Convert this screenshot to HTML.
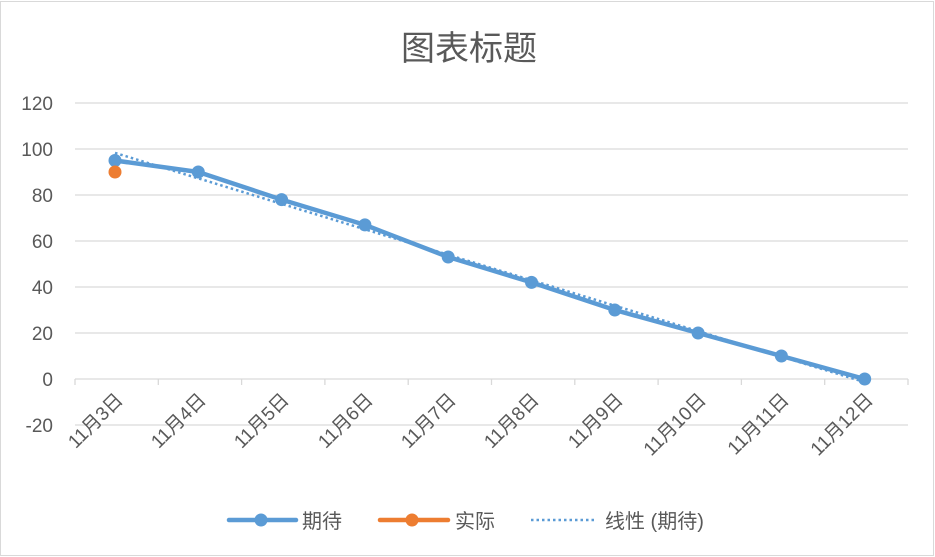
<!DOCTYPE html>
<html><head><meta charset="utf-8"><style>
html,body{margin:0;padding:0;background:#fff;}
svg{display:block;font-family:"Liberation Sans","Noto Sans CJK SC",sans-serif;}
</style></head><body>
<svg width="935" height="557" viewBox="0 0 935 557" xmlns="http://www.w3.org/2000/svg">
<rect x="0.5" y="1.5" width="933" height="554" fill="#fff" stroke="#d9d9d9"/>
<text x="469" y="60" text-anchor="middle" font-size="34" fill="#595959">图表标题</text>
<g stroke="#d9d9d9" stroke-width="1.3">
<line x1="75" y1="103" x2="908" y2="103"/>
<line x1="75" y1="149" x2="908" y2="149"/>
<line x1="75" y1="195" x2="908" y2="195"/>
<line x1="75" y1="241" x2="908" y2="241"/>
<line x1="75" y1="287" x2="908" y2="287"/>
<line x1="75" y1="333" x2="908" y2="333"/>
<line x1="75" y1="425" x2="908" y2="425"/>
<line x1="75" y1="379" x2="908" y2="379"/>
<line x1="75" y1="379" x2="75" y2="385"/><line x1="158.3" y1="379" x2="158.3" y2="385"/><line x1="241.6" y1="379" x2="241.6" y2="385"/><line x1="324.9" y1="379" x2="324.9" y2="385"/><line x1="408.2" y1="379" x2="408.2" y2="385"/><line x1="491.5" y1="379" x2="491.5" y2="385"/><line x1="574.8" y1="379" x2="574.8" y2="385"/><line x1="658.1" y1="379" x2="658.1" y2="385"/><line x1="741.4" y1="379" x2="741.4" y2="385"/><line x1="824.7" y1="379" x2="824.7" y2="385"/><line x1="908" y1="379" x2="908" y2="385"/>
</g>
<g font-size="19" fill="#595959" text-anchor="end">
<text x="53" y="110">120</text><text x="53" y="156">100</text><text x="53" y="202">80</text><text x="53" y="248">60</text><text x="53" y="294">40</text><text x="53" y="340">20</text><text x="53" y="386">0</text><text x="53" y="432">-20</text>
</g>
<g font-size="19" fill="#595959" text-anchor="end">
<text transform="translate(124,401) rotate(-45)">11月3日</text>
<text transform="translate(207,401) rotate(-45)">11月4日</text>
<text transform="translate(290,401) rotate(-45)">11月5日</text>
<text transform="translate(374,401) rotate(-45)">11月6日</text>
<text transform="translate(457,401) rotate(-45)">11月7日</text>
<text transform="translate(540,401) rotate(-45)">11月8日</text>
<text transform="translate(624,401) rotate(-45)">11月9日</text>
<text transform="translate(707,401) rotate(-45)">11月10日</text>
<text transform="translate(790,401) rotate(-45)">11月11日</text>
<text transform="translate(874,401) rotate(-45)">11月12日</text>
</g>
<polyline fill="none" stroke="#5b9bd5" stroke-width="4.5" stroke-linejoin="round" stroke-linecap="round" points="115,160.5 198.3,172 281.6,199.6 364.9,224.9 448.2,257 531.5,282.4 614.8,310 698.1,333 781.4,356 864.7,379"/>
<line x1="115" y1="152.9" x2="864.7" y2="382.1" stroke="#5b9bd5" stroke-width="2.5" stroke-dasharray="2.5 3"/>
<g fill="#5b9bd5">
<circle cx="115" cy="160.5" r="6.5"/><circle cx="198.3" cy="172" r="6.5"/><circle cx="281.6" cy="199.6" r="6.5"/><circle cx="364.9" cy="224.9" r="6.5"/><circle cx="448.2" cy="257" r="6.5"/><circle cx="531.5" cy="282.4" r="6.5"/><circle cx="614.8" cy="310" r="6.5"/><circle cx="698.1" cy="333" r="6.5"/><circle cx="781.4" cy="356" r="6.5"/><circle cx="864.7" cy="379" r="6.5"/>
</g>
<circle cx="115" cy="172" r="6.5" fill="#ed7d31"/>
<line x1="229" y1="520" x2="296" y2="520" stroke="#5b9bd5" stroke-width="4.5" stroke-linecap="round"/>
<circle cx="261" cy="520" r="6.5" fill="#5b9bd5"/>
<text x="302" y="528" font-size="20" fill="#595959">期待</text>
<line x1="380" y1="520" x2="448" y2="520" stroke="#ed7d31" stroke-width="4.5" stroke-linecap="round"/>
<circle cx="412" cy="520" r="6.5" fill="#ed7d31"/>
<text x="455" y="528" font-size="20" fill="#595959">实际</text>
<line x1="531" y1="520" x2="597" y2="520" stroke="#5b9bd5" stroke-width="2.5" stroke-dasharray="2.5 3"/>
<text x="605" y="528" font-size="20" fill="#595959">线性 (期待)</text>
</svg>
</body></html>
